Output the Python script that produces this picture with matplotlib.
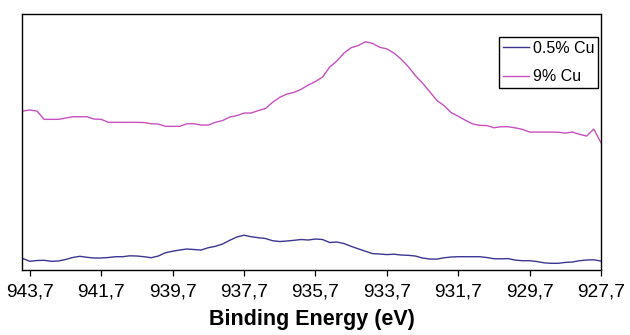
import numpy as np
import matplotlib
matplotlib.use("Agg")
import matplotlib.pyplot as plt

# ── Данные (энергия связи, шаг 0.2 эВ; интенсивность в усл. ед.) ──────────

energy = np.round(np.arange(943.9, 927.69, -0.2), 1)

cu_9 = [
    159, 160, 159, 150.7, 150.7, 150.7, 152, 153.3, 153.3, 153.3,
    151, 150.7, 147.7, 147.7, 147.7, 147.7, 147.7, 147.5, 146.3, 146,
    143.7, 143.7, 143.7, 146.3, 146.3, 145, 145, 147.7, 149.5, 153,
    154.5, 157, 157, 159.5, 161.5, 167.7, 172.7, 176, 177.7, 180.7,
    185, 188.5, 193, 203, 209, 217, 222.3, 224.5, 228.3, 226.7,
    222.8, 221.2, 217, 211, 203.5, 194.5, 187, 178.5, 169.7, 164.5,
    157.5, 153.8, 149.8, 146.2, 144.7, 144.5, 142.3, 143.3, 143.3, 142.2,
    140.7, 138, 138, 138, 138, 137.8, 137, 138, 135.7, 134,
    141, 127.3,
]

cu_05 = [
    11.5, 8.7, 9.5, 9.7, 8.7, 9, 10.5, 12.5, 13.7, 12.7,
    12, 12, 12.5, 13.3, 13.3, 14.2, 14, 13.3, 12.3, 14,
    17.3, 18.8, 20, 21, 20.5, 20, 22.3, 23.7, 26, 29.7,
    33, 34.8, 33.3, 32.3, 31.5, 29.3, 28.5, 29, 29.7, 30.5,
    30, 31, 30.5, 27.5, 28, 26.5, 23.7, 21.2, 18.8, 16.4,
    16, 15.4, 15.8, 15, 14.7, 14, 12, 11, 10.9, 12.2,
    13, 13.3, 13.3, 13.3, 13.3, 12.5, 11.3, 11.2, 11.4, 9.9,
    9.3, 9.3, 8.5, 7.2, 6.7, 6.7, 7.6, 8, 9.3, 10,
    10.2, 9,
]

tick_values = [943.7, 941.7, 939.7, 937.7, 935.7, 933.7, 931.7, 929.7, 927.7]
tick_labels = ["943,7", "941,7", "939,7", "937,7", "935,7",
               "933,7", "931,7", "929,7", "927,7"]

BLUE = "#3d3592"
MAGENTA = "#c850c0"

plt.rcParams["font.family"] = ["Liberation Sans", "DejaVu Sans"]

fig = plt.figure(figsize=(6.3, 3.35), dpi=100)
ax = fig.add_axes([0.0349, 0.194, 0.919, 0.764])

ax.plot(energy, cu_05, color=BLUE, linewidth=1.0, label="0.5% Cu")
ax.plot(energy, cu_9, color=MAGENTA, linewidth=1.0, label="9% Cu")

ax.set_xlim(943.92, 927.7)
ax.set_ylim(0, 256)

ax.set_xticks(tick_values)
ax.set_xticklabels(tick_labels, fontsize=13.8)
ax.tick_params(axis="x", direction="out", length=4.5, width=0.9, pad=5)
ax.set_yticks([])

for spine in ax.spines.values():
    spine.set_color("black")
    spine.set_linewidth(1.0)

ax.set_xlabel("Binding Energy (eV)", fontsize=15.5, fontweight="bold", labelpad=6)

leg = ax.legend(
    loc="upper right", bbox_to_anchor=(0.995, 0.912), borderaxespad=0,
    fontsize=11.5, handlelength=1.6, handletextpad=0.25, labelspacing=0.85,
    borderpad=0.25, fancybox=False, framealpha=1, edgecolor="black",
)
leg.get_frame().set_linewidth(1.0)

fig.savefig("out.png", dpi=100, facecolor="white")
